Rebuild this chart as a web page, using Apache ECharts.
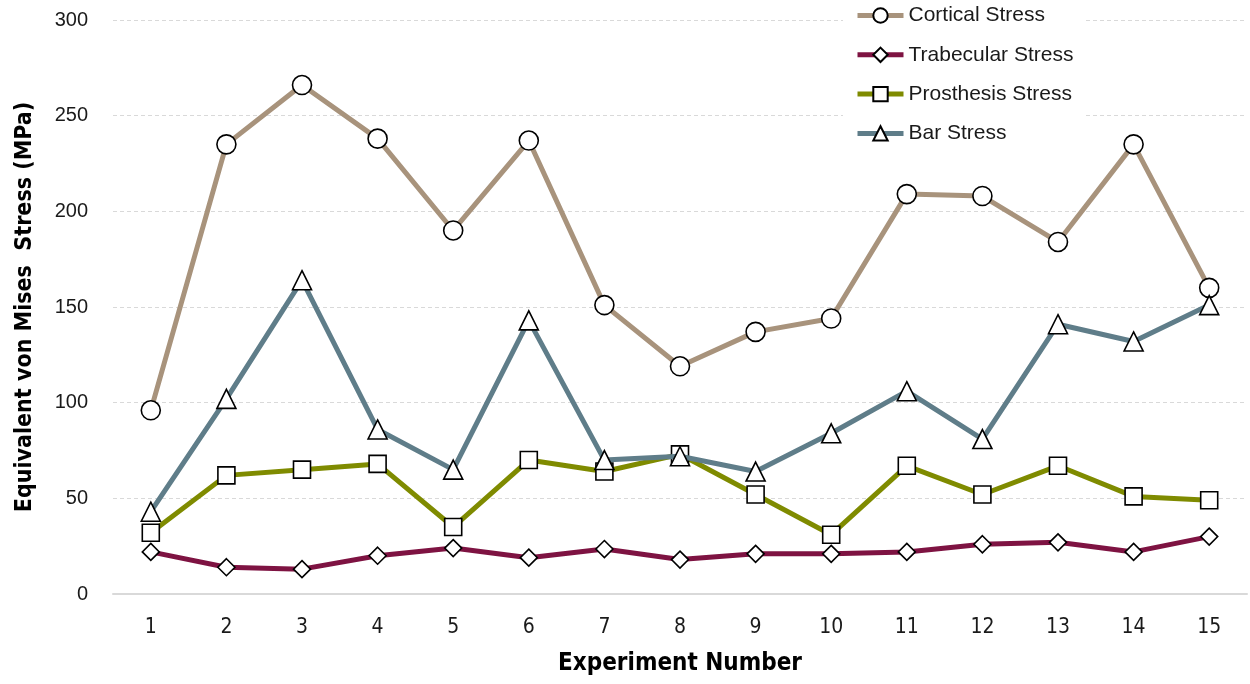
<!DOCTYPE html>
<html>
<head>
<meta charset="utf-8">
<script src="https://cdn.jsdelivr.net/npm/echarts@6/dist/echarts.min.js"></script>
<style>
html,body{margin:0;padding:0;background:#fff;}
#chart{width:1250px;height:684px;}
</style>
</head>
<body>
<div id="chart"></div>
<script>
const categories = ['1','2','3','4','5','6','7','8','9','10','11','12','13','14','15'];
const corticalStress = [96, 235, 266, 238, 190, 237, 151, 119, 137, 144, 209, 208, 184, 235, 160];
const trabecularStress = [22, 14, 13, 20, 24, 19, 23.5, 18, 21, 21, 22, 26, 27, 22, 30];
const prosthesisStress = [32, 62, 65, 68, 35, 70, 64, 73, 52, 31, 67, 52, 67, 51, 49];
const barStress = [43, 102, 164, 86, 65, 143, 70, 72, 64, 84, 106, 81, 141, 132, 151];
const yTicks = { min: 0, max: 300, interval: 50 };

const narrow = "'Liberation Sans Narrow', 'DejaVu Sans Condensed', 'Liberation Sans', sans-serif";
const markerStyle = { color: '#ffffff', borderColor: '#000000', borderWidth: 1.6 };

function mk(name, data, color, symbol, size, z) {
  return {
    name: name,
    type: 'line',
    data: data,
    symbol: symbol,
    symbolSize: size,
    showAllSymbol: true,
    z: z,
    lineStyle: { color: color, width: 5 },
    itemStyle: Object.assign({}, markerStyle),
    emphasis: { disabled: true },
    color: color
  };
}

const chart = echarts.init(document.getElementById('chart'), null, { renderer: 'canvas' });
chart.setOption({
  animation: false,
  backgroundColor: '#ffffff',
  grid: { left: 113, right: 3, top: 20, bottom: 90, containLabel: false, outerBoundsMode: 'none' },
  legend: {
    orient: 'vertical',
    left: 843,
    top: 1,
    padding: [4, 12, 8, 12],
    backgroundColor: '#ffffff',
    itemWidth: 46,
    itemHeight: 18,
    itemGap: 18.3,
    lineStyle: { width: 5 },
    textStyle: { fontSize: 21, color: '#1a1a1a', fontFamily: "'Liberation Sans', Arial, sans-serif" },
    data: ['Cortical Stress', 'Trabecular Stress', 'Prosthesis Stress', 'Bar Stress']
  },
  xAxis: {
    type: 'category',
    data: categories,
    boundaryGap: true,
    name: 'Experiment Number',
    nameLocation: 'middle',
    nameGap: 58,
    nameTextStyle: { fontSize: 24, fontWeight: 'bold', color: '#000', fontFamily: narrow },
    axisLine: { show: true, lineStyle: { color: '#d9d9d9', width: 2 } },
    axisTick: { show: false },
    axisLabel: { fontSize: 21, color: '#1a1a1a', margin: 23, fontFamily: narrow }
  },
  yAxis: {
    type: 'value',
    min: yTicks.min,
    max: yTicks.max,
    interval: yTicks.interval,
    name: 'Equivalent von Mises  Stress (MPa)',
    nameLocation: 'middle',
    nameGap: 76,
    nameTextStyle: { fontSize: 23, fontWeight: 'bold', color: '#000', fontFamily: narrow },
    axisLine: { show: false },
    axisTick: { show: false },
    axisLabel: { fontSize: 20, color: '#1a1a1a', margin: 25, fontFamily: "'Liberation Sans', Arial, sans-serif" },
    splitLine: { show: true, lineStyle: { color: '#d9d9d9', type: [4, 3], width: 1 } }
  },
  series: [
    mk('Cortical Stress', corticalStress, '#A8937C', 'circle', 19, 4),
    mk('Trabecular Stress', trabecularStress, '#7E1342', 'diamond', 17, 3),
    mk('Prosthesis Stress', prosthesisStress, '#7F8B00', 'rect', 17, 2),
    mk('Bar Stress', barStress, '#5F7D89', 'triangle', 19, 5)
  ]
});
</script>
</body>
</html>
